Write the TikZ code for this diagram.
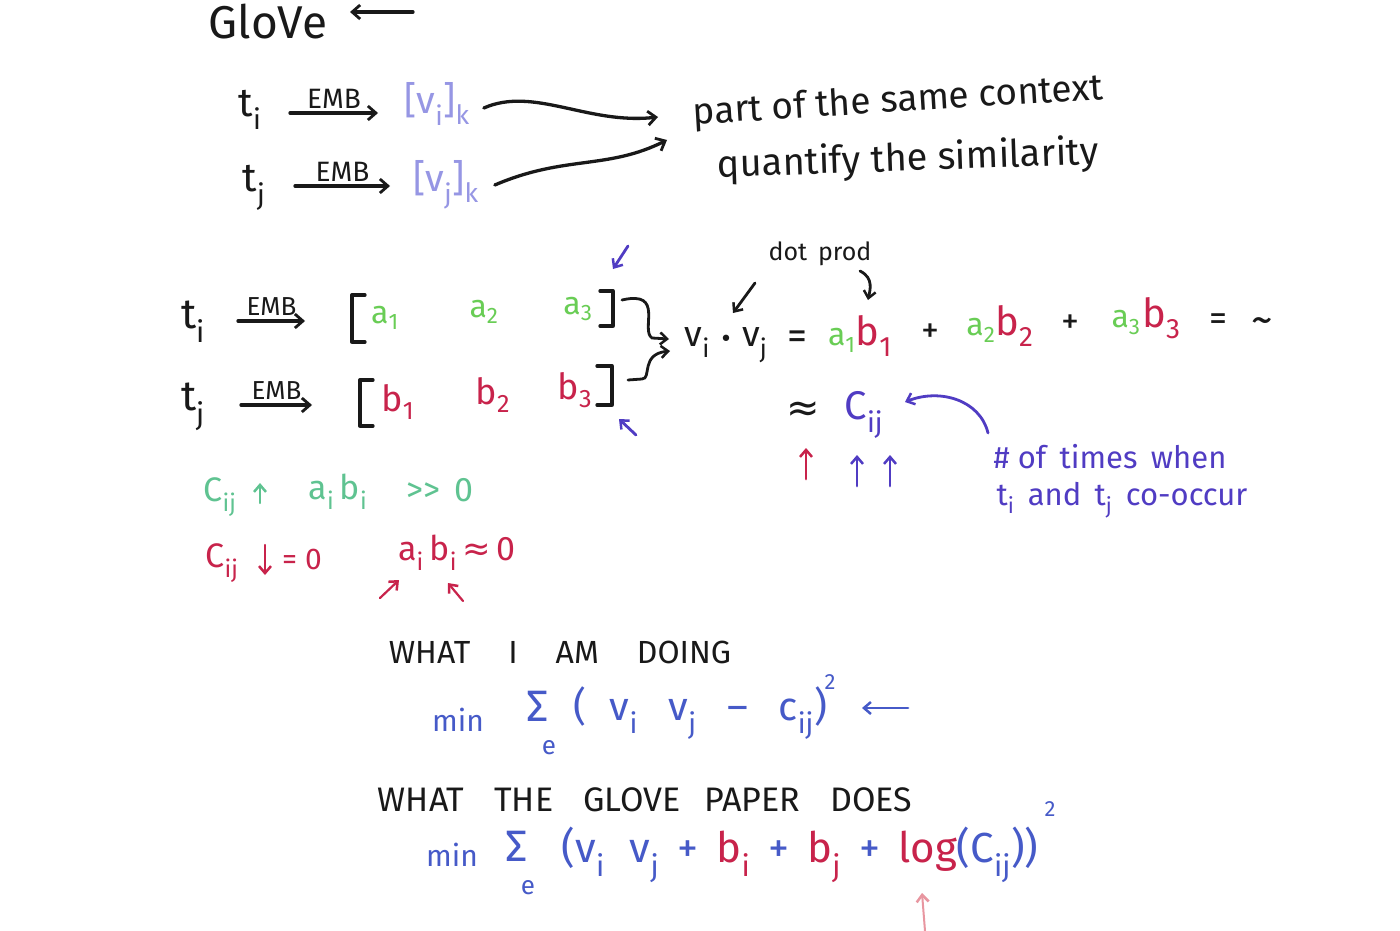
\documentclass[tikz,border=0pt]{standalone}
\usepackage{fontspec}
\setmainfont{Fira Sans}
\newfontfamily\symf{DejaVu Sans}
\usetikzlibrary{arrows.meta}
\definecolor{ink}{RGB}{25,25,25}
\definecolor{agreen}{RGB}{105,205,85}
\definecolor{bred}{RGB}{200,35,75}
\definecolor{cblue}{RGB}{80,60,195}
\definecolor{fblue}{RGB}{70,90,200}
\definecolor{lav}{RGB}{150,150,228}
\definecolor{tgreen}{RGB}{95,195,145}
\definecolor{lpink}{RGB}{232,150,160}
\newcommand\sbs[1]{\textsubscript{#1}}
\tikzset{
  fs/.style={font=\fontsize{#1}{#1}\selectfont},
  txt/.style={inner sep=0pt, text=ink},
  arr/.style={-{Straight Barb[length=8pt,width=14pt,line width=2.8pt]}, line width=3.3pt, line cap=round, draw=ink},
  thin arr/.style={-{Straight Barb[length=7pt,width=12pt,line width=2.5pt]}, line width=2.8pt, line cap=round},
  brk/.style={line width=3.3pt, draw=ink, line cap=round, line join=round},
}
\begin{document}
\begin{tikzpicture}[x=1pt,y=-1pt]
\fill[white] (0,0) rectangle (1400,931);
\useasboundingbox (0,0) rectangle (1400,931);

% ---------- title ----------
\node[txt, fs=46] (glove) at (268,22) {GloVe};
\coordinate (gtail) at (413,12);
\coordinate (ghead) at (350,12);
\draw[arr] (gtail) -- (ghead);

% ---------- first block ----------
\node[txt, fs=40] (ti1) at (250,110) {t\sbs{i}};
\node[txt, fs=40] (tj1) at (254,188) {t\sbs{j}};
\node[txt, fs=38, text=lav] (vi) at (437,104) {[v\sbs{i}]\sbs{k}};
\node[txt, fs=38, text=lav] (vj) at (446,185) {[v\sbs{j}]\sbs{k}};
\coordinate (e1s) at (290,113); \coordinate (e1e) at (378,113);
\coordinate (e2s) at (295,186); \coordinate (e2e) at (390,186);
\draw[arr] (e1s) -- node[above=3pt, txt, fs=28]{EMB} (e1e);
\draw[arr] (e2s) -- node[above=3pt, txt, fs=28]{EMB} (e2e);

\node[txt, fs=37, rotate=3.5] (ctx1) at (898,102) {part of the same context};
\node[txt, fs=38, rotate=2] (ctx2) at (908,160) {quantify the similarity};
\coordinate (c1e) at (658,117);
\coordinate (c2e) at (667,140);
\draw[arr] ([xshift=14pt,yshift=-4pt]vi.east) .. controls +(50,-22) and +(-70,8) .. (c1e);
\draw[arr] ([xshift=16pt]vj.east) .. controls +(70,-30) and +(-60,30) .. (c2e);

% ---------- second block ----------
\node[txt, fs=42] (ti2) at (193,322) {t\sbs{i}};
\node[txt, fs=42] (tj2) at (193,407) {t\sbs{j}};
\node[txt, fs=32, text=agreen] (a1) at (385,318) {a\sbs{1}};
\node[txt, fs=32, text=agreen] (a2) at (484,312) {a\sbs{2}};
\node[txt, fs=32, text=agreen] (a3) at (578,309) {a\sbs{3}};
\node[txt, fs=36, text=bred] (b1) at (398,402) {b\sbs{1}};
\node[txt, fs=36, text=bred] (b2) at (493,395) {b\sbs{2}};
\node[txt, fs=36, text=bred] (b3) at (575,390) {b\sbs{3}};
\coordinate (e3s) at (238,321); \coordinate (e3e) at (305,321);
\coordinate (e4s) at (241,405); \coordinate (e4e) at (312,405);
\draw[arr] (e3s) -- node[above=4pt, txt, fs=26]{EMB} (e3e);
\draw[arr] (e4s) -- node[above=4pt, txt, fs=26]{EMB} (e4e);
% brackets
\draw[brk] (365,295) -- (352,295) -- (352,342) -- (365,342);
\draw[brk] (600,291) -- (613,291) -- (613,326) -- (600,326);
\draw[brk] (373,380) -- (360,380) -- (360,426) -- (373,426);
\draw[brk] (597,366) -- (612,366) -- (612,405) -- (597,405);
\coordinate (abr) at (622,300);
\coordinate (bbr) at (628,380);

\node[txt, fs=36] (vdot) at (726,345) {v\sbs{i} {\symf\fontsize{22}{22}\selectfont •} v\sbs{j}};
\draw[thin arr, draw=ink] (abr) .. controls (665,290) and (640,330) .. (652,338) -- (669,339);
\draw[thin arr, draw=ink] (bbr) -- (642,379) .. controls (652,379) and (640,354) .. (670,351);

\node[txt, fs=40] (eq1) at (797,340) {=};
\node[txt] (p1) at (860,336) {{\fontsize{32}{32}\selectfont\color{agreen}a\sbs{1}}{\fontsize{40}{40}\selectfont\color{bred}b\sbs{1}}};
\node[txt, fs=36] (pl1) at (930,333) {+};
\node[txt] (p2) at (1000,326) {{\fontsize{32}{32}\selectfont\color{agreen}a\sbs{2}}{\fontsize{40}{40}\selectfont\color{bred}b\sbs{2}}};
\node[txt, fs=36] (pl2) at (1070,324) {+};
\node[txt] (p3) at (1146,318) {{\fontsize{32}{32}\selectfont\color{agreen}a\sbs{3}}\,{\fontsize{40}{40}\selectfont\color{bred}b\sbs{3}}};
\node[txt, fs=36] (eq2) at (1218,322) {=};
\node[txt, fs=44] (tl) at (1262,326) {\textasciitilde};

\node[txt, fs=25] (dp) at (820,254) {dot\, prod};
\coordinate (dpl) at (755,283);
\coordinate (dpe) at (733,313);
\coordinate (dpr) at (860,271);
\coordinate (dpf) at (868,300);
\draw[thin arr, draw=ink] (dpl) -- (dpe);
\draw[thin arr, draw=ink] (dpr) .. controls (874,278) and (870,290) .. (dpf);

\coordinate (ua) at (628,246);
\coordinate (ub) at (636,435);
\draw[thin arr, draw=cblue] (ua) -- (613,269);
\draw[thin arr, draw=cblue] (ub) -- (619,419);

\node[txt, fs=40] (apx) at (803,412) {\symf ≈};
\node[txt, fs=40, text=cblue] (cij) at (864,415) {C\sbs{ij}};
\node[txt, fs=31, text=cblue] (occ1) at (1110,457) {\# of\, times\, when};
\node[txt, fs=31, text=cblue] (occ2) at (1122,500) {t\sbs{i}\, and\, t\sbs{j}\, co-occur};
\coordinate (oc) at (988,433);
\draw[thin arr, draw=cblue] (oc) .. controls (980,400) and (940,388) .. (905,402);
\coordinate (r1) at (806,479);
\coordinate (u1) at (857,486);
\coordinate (u2) at (890,486);
\draw[thin arr, draw=bred] (r1) -- (806,448);
\draw[thin arr, draw=cblue] (u1) -- (857,455);
\draw[thin arr, draw=cblue] (u2) -- (890,455);

% ---------- green / red statements ----------
\node[txt, fs=34, text=tgreen] (gc) at (220,497) {C\sbs{ij}};
\coordinate (ga) at (260,503);
\draw[thin arr, draw=tgreen, line width=2.2pt] (ga) -- (260,483);
\node[txt, fs=34, text=tgreen] (gab) at (338,492) {a\sbs{i}\,b\sbs{i}};
\node[txt, fs=34, text=tgreen] (ggg) at (440,490) {{>}{>}\, 0};

\node[txt, fs=34, text=bred] (rc) at (222,563) {C\sbs{ij}};
\coordinate (ra) at (265,545);
\draw[thin arr, draw=bred, line width=2.2pt] (ra) -- (265,575);
\node[txt, fs=30, text=bred] (req) at (302,559) {= 0};
\node[txt, fs=34, text=bred] (rab) at (457,553) {a\sbs{i}\,b\sbs{i}\,{\symf ≈}\,0};
\coordinate (rs1) at (380,598);
\coordinate (rs2) at (463,601);
\draw[thin arr, draw=bred, line width=2.2pt] (rs1) -- (399,580);
\draw[thin arr, draw=bred, line width=2.2pt] (rs2) -- (448,583);

% ---------- what I am doing ----------
\node[txt, fs=32] (wiad) at (560,652) {WHAT\hspace{38pt}I\hspace{38pt}AM\hspace{38pt}DOING};
\node[txt, fs=30, text=fblue] (min1) at (458,720) {min};
\node[txt, fs=44, text=fblue] (sig1) at (538,706) {Σ};
\node[txt, fs=26, text=fblue] (e1) at (549,748) {e};
\node[txt, fs=40, text=fblue] (f1) at (700,713) {(\,\, v\sbs{i}\,\,\, v\sbs{j}\,\,\, –\,\,\, c\sbs{ij})};
\node[txt, fs=22, text=fblue] (sq1) at (830,682) {2};
\coordinate (fa) at (908,708);
\draw[thin arr, draw=fblue] (fa) -- (862,708);

% ---------- what the GloVe paper does ----------
\node[txt, fs=34] (wgpd) at (645,800) {WHAT\hspace{30pt}THE\hspace{30pt}GLOVE\hspace{24pt}PAPER\hspace{30pt}DOES};
\node[txt, fs=30, text=fblue] (min2) at (452,855) {min};
\node[txt, fs=44, text=fblue] (sig2) at (517,846) {Σ};
\node[txt, fs=26, text=fblue] (e2) at (528,888) {e};
\node[txt, fs=42, text=fblue] (f2) at (800,855) {(v\sbs{i}\,\, v\sbs{j}\, +\, {\color{bred}b\sbs{i}}\, +\, {\color{bred}b\sbs{j}}\, +\, {\color{bred}log}(C\sbs{ij}))};
\node[txt, fs=22, text=fblue] (sq2) at (1050,809) {2};
\coordinate (pa) at (925,931);
\draw[thin arr, draw=lpink, line width=2pt] (pa) -- (922,893);
\end{tikzpicture}
\end{document}
